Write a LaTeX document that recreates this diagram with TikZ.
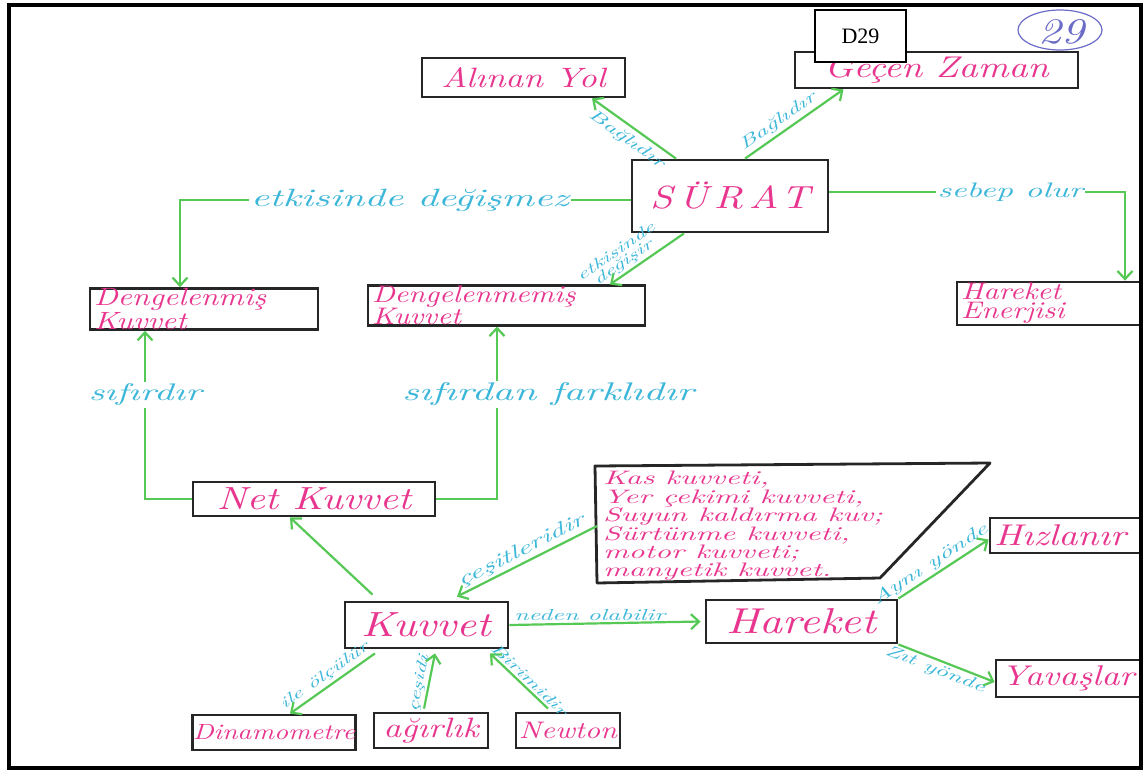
\documentclass[tikz,border=0pt]{standalone}
\usepackage{fontspec}
\newfontfamily\handA[Extension=.otf,FakeStretch=1.25]{lmroman10-italic}
\newfontfamily\handB[Extension=.otf,FakeStretch=1.6]{lmroman10-italic}
\newfontfamily\printed{Liberation Serif}
\usetikzlibrary{arrows.meta}
\definecolor{pinkc}{HTML}{E8368F}
\definecolor{cyanc}{HTML}{3DB7D9}
\definecolor{greenc}{HTML}{56C856}
\definecolor{violetc}{HTML}{6B6BC8}
\newcommand\fs[2]{\fontsize{#1}{#2}\selectfont}
\begin{document}
\begin{tikzpicture}[x=1pt,y=-1pt,
  box/.style={draw=black!85, line width=2.8pt, inner sep=0pt, text=pinkc},
  con/.style={draw=greenc, line width=2.2pt, -{Straight Barb[length=8pt,width=15pt]}},
  lab/.style={text=cyanc, inner sep=1pt},
  gap/.style={lab, fill=white, inner sep=2pt}]
\useasboundingbox (0,0) rectangle (1143,769);
\begin{scope}
\clip (9,5) rectangle (1140,767);
% boxes
\node[box, minimum width=203pt, minimum height=39pt, font={\handA\fs{28}{30}}] (alinan) at (523.5,77.5) {Alınan Yol};
\node[box, minimum width=283pt, minimum height=36pt, font={\handA\fs{30}{32}}] (gecen) at (936.5,70) {Geçen Zaman};
\node[box, minimum width=196pt, minimum height=72pt, font={\handA\fs{32}{34}\addfontfeature{LetterSpace=18}}] (surat) at (730,196) {SÜRAT};
\node[box, text width=220pt, align=left, inner xsep=4pt, minimum height=34pt, font={\handA\fs{25}{16}}] (deng) at (204,309) {Dengelenmiş\\Kuvvet};
\node[box, text width=269pt, align=left, inner xsep=4pt, minimum height=35pt, font={\handA\fs{24}{16}}] (dengm) at (506.5,305.5) {Dengelenmemiş\\Kuvvet};
\node[box, text width=192pt, align=left, inner xsep=4pt, minimum height=43pt, font={\handA\fs{24}{19}}] (enerji) at (1057,303.5) {Hareket\\Enerjisi};
\node[box, minimum width=242pt, minimum height=34pt, font={\handA\fs{32}{34}}] (net) at (314,499) {Net Kuvvet};
\node[box, text width=192pt, align=left, inner xsep=4pt, minimum height=35pt, font={\handA\fs{30}{32}}] (hizlanir) at (1090,535.5) {Hızlanır};
\node[box, minimum width=191pt, minimum height=43pt, font={\handA\fs{36}{38}}] (hareket) at (801.5,621.5) {Hareket};
\node[box, text width=192pt, align=left, inner xsep=5pt, minimum height=37pt, font={\handA\fs{28.5}{30}}] (yavas) at (1097,678.5) {Yavaşlar};
\node[box, minimum width=163pt, minimum height=46pt, font={\handA\fs{35}{37}}] (kuvvet) at (426.5,625) {Kuvvet};
\node[box, minimum width=152pt, minimum height=35pt, font={\handA\fs{22}{24}}] (dinamo) at (274,732.5) {Dinamometre};
\node[box, minimum width=114pt, minimum height=35pt, font={\handA\fs{28}{30}}] (agirlik) at (431,730.5) {ağırlık};
\node[box, minimum width=104pt, minimum height=35pt, font={\handA\fs{24}{26}}] (newton) at (568,730.5) {Newton};
% force types
\draw[line width=2.8pt, draw=black!85, line join=round] (595,466) -- (990,463) -- (880,578) -- (597,583) -- cycle;
\node[anchor=north west, align=left, inner sep=0pt, text=pinkc, font={\handB\fs{19.5}{15.3}}] (kas) at (603,471)
  {Kas kuvveti,\\Yer çekimi kuvveti,\\Suyun kaldırma kuv;\\Sürtünme kuvveti,\\motor kuvveti;\\manyetik kuvvet.};
% connectors
\draw[con] ([xshift=-54pt]surat.north) -- node[lab, sloped, below=4pt, font={\handB\fs{16}{17}}] {Bağlıdır} ([xshift=68.5pt]alinan.south);
\draw[con] ([xshift=15pt]surat.north) -- node[lab, sloped, above=2pt, pos=0.4, font={\handB\fs{16}{17}}] {Bağlıdır} ([xshift=-93pt]gecen.south);
\draw[con] ([yshift=-4pt]surat.west) -| node[gap, pos=0.245, font={\handB\fs{25}{27}}] {etkisinde değişmez} ([xshift=-24pt]deng.north);
\draw[con] ([xshift=-46pt]surat.south) -- node[lab, sloped, above=1pt, pos=0.74, align=center, font={\handB\fs{15}{13}}] {etkisinde\\değişir} ([xshift=103.5pt]dengm.north);
\draw[con] ([yshift=4pt]surat.east) -| node[gap, pos=0.306, font={\handB\fs{21}{23}}] {sebep olur} ([xshift=68pt]enerji.north);
\draw[con] (net.west) -| node[gap, pos=0.81, font={\handB\fs{24}{26}}] {sıfırdır} ([xshift=-59pt]deng.south);
\draw[con] (net.east) -| node[gap, pos=0.804, xshift=51pt, font={\handB\fs{25.5}{27}}] {sıfırdan farklıdır} ([xshift=-9.5pt]dengm.south);
\draw[con] ([xshift=-54pt,yshift=6pt]kuvvet.north) -- ([xshift=-24pt]net.south);
\draw[con] ([xshift=-6pt]kas.west) -- node[lab, sloped, above=1pt, font={\handB\fs{19}{20}}] {çeşitleridir} ([xshift=30.5pt,yshift=4pt]kuvvet.north);
\draw[con] (kuvvet.east) -- node[lab, above=1pt, pos=0.42, font={\handB\fs{16}{17}}] {neden olabilir} ([xshift=-4pt]hareket.west);
\draw[con] (hareket.north east) -- node[lab, sloped, above=1pt, pos=0.42, font={\handB\fs{17}{18}}] {Aynı yönde} ([yshift=-4pt]hizlanir.west);
\draw[con] (hareket.south east) -- node[lab, sloped, below=1pt, pos=0.42, font={\handB\fs{16}{17}}] {Zıt yönde} ([yshift=-3.5pt]yavas.west);
\draw[con] ([xshift=-51.5pt,yshift=-4pt]kuvvet.south) -- node[lab, sloped, above=2pt, pos=0.52, font={\handB\fs{15}{16}}] {ile ölçülür} ([xshift=16pt]dinamo.north);
\draw[con] ([xshift=-7pt,yshift=3pt]agirlik.north) -- node[lab, sloped, above=1pt, pos=0.42, font={\handB\fs{15}{16}}] {çeşidi} ([xshift=8.5pt,yshift=-4pt]kuvvet.south);
\draw[con] ([xshift=-20pt,yshift=3pt]newton.north) -- node[lab, sloped, above=1pt, pos=0.42, font={\handB\fs{15}{16}}] {Birimidir} ([xshift=63.5pt,yshift=-4pt]kuvvet.south);
% page number and label
\draw[violetc, line width=1.2pt] (1060,30) ellipse [x radius=42pt, y radius=20pt];
\node[text=violetc, font={\handA\fs{36}{38}}] (num) at (1061,32) {29};
\node[draw=black, line width=2pt, fill=white, minimum width=91pt, minimum height=52pt, inner sep=0pt, font={\printed\fs{22}{24}}] (dlabel) at (860.5,36) {D29};
\end{scope}
\draw[line width=4pt] (9,5) rectangle (1140.5,767.5);
\end{tikzpicture}
\end{document}
